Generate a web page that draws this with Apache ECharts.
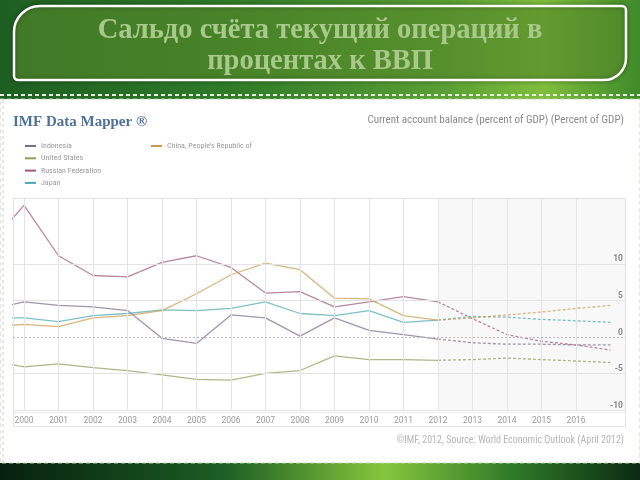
<!DOCTYPE html>
<html><head><meta charset="utf-8">
<script src="https://cdn.jsdelivr.net/npm/echarts@6/dist/echarts.min.js"></script>
<style>html,body{margin:0;padding:0;background:#fff}#c{width:640px;height:480px}</style>
</head><body><div id="c"></div>
<script>
const years = [1999,2000,2001,2002,2003,2004,2005,2006,2007,2008,2009,2010,2011,2012,2013,2014,2015,2016,2017];
const tickYears = [2000,2001,2002,2003,2004,2005,2006,2007,2008,2009,2010,2011,2012,2013,2014,2015,2016];
const lastActual = 2012;
const indonesia = [3.7,4.8,4.3,4.1,3.6,-0.2,-0.9,3.0,2.6,0.1,2.6,0.9,0.3,-0.3,-0.8,-1.0,-1.0,-1.1,-1.1];
const unitedStates = [-3.2,-4.1,-3.7,-4.2,-4.6,-5.2,-5.8,-5.9,-5.0,-4.6,-2.6,-3.1,-3.1,-3.2,-3.1,-2.9,-3.1,-3.3,-3.5];
const russia = [12.6,18.0,11.1,8.4,8.2,10.2,11.1,9.5,6.0,6.2,4.1,4.8,5.5,4.8,2.5,0.3,-0.6,-1.1,-1.8];
const japan = [2.6,2.6,2.1,2.9,3.2,3.7,3.6,3.9,4.8,3.2,2.9,3.6,2.0,2.3,2.8,2.7,2.4,2.2,2.0];
const china = [1.4,1.7,1.4,2.6,2.9,3.6,5.9,8.5,10.1,9.2,5.3,5.2,2.9,2.3,2.6,3.0,3.4,3.9,4.3];
const yGridValues = [-10,-5,5,10];

const countries = [
  {name:'Indonesia', data:indonesia, color:'#7d6b8c'},
  {name:'United States', data:unitedStates, color:'#8c9c5c'},
  {name:'Russian Federation', data:russia, color:'#9c5a78'},
  {name:'Japan', data:japan, color:'#4ea8b0'},
  {name:'China, People\'s Republic of', data:china, color:'#c89a50'}
];

const series = [];
countries.forEach(function(c){
  const actual = [], fc = [];
  years.forEach(function(y,i){
    if (y <= lastActual) actual.push([y, c.data[i]]);
    if (y >= lastActual) fc.push([y, c.data[i]]);
  });
  series.push({name:c.name, type:'line', data:actual, symbol:'none', color:c.color,
    lineStyle:{width:1.3, opacity:0.72}, z:3});
  series.push({name:c.name, type:'line', data:fc, symbol:'none', color:c.color,
    lineStyle:{width:1.3, opacity:0.72, type:[3,2]}, z:3});
});
series.push({type:'line', data:[], silent:true, z:1,
  markArea:{silent:true, itemStyle:{color:'#f8f8f8'}, data:[[{xAxis:lastActual},{xAxis:'max'}]]},
  markLine:{silent:true, symbol:'none', label:{show:false},
    data: tickYears.map(function(y){return {xAxis:y, lineStyle:{color:'#e3e3e3', width:1, type:'solid'}};})
      .concat(yGridValues.map(function(v){return {yAxis:v, lineStyle:{color:'#e3e3e3', width:1, type:'solid'}};}))
      .concat([{yAxis:0, lineStyle:{color:'#bdbdbd', width:1, type:[2,2]}}])
  }
});

const narrow = '"Liberation Sans Narrow", "Roboto Condensed", Roboto, sans-serif';

const option = {
  animation:false,
  graphic:[
    {type:'rect', z:-5, shape:{x:0,y:0,width:640,height:100},
      style:{fill:{type:'linear',x:0,y:0,x2:1,y2:0,colorStops:[
        {offset:0,color:'#1d5e22'},{offset:0.35,color:'#2f7a28'},{offset:0.7,color:'#5aa034'},{offset:0.85,color:'#7fbe3c'},{offset:1,color:'#3e8a2a'}]}}},
    {type:'rect', z:-5, shape:{x:0,y:462,width:640,height:18},
      style:{fill:{type:'linear',x:0,y:0,x2:1,y2:0,colorStops:[
        {offset:0,color:'#06200e'},{offset:0.35,color:'#1c5e24'},{offset:0.6,color:'#86c63c'},{offset:0.8,color:'#2f7a28'},{offset:1,color:'#0a2a12'}]}}},
    {type:'rect', z:-4, shape:{x:14,y:6,width:612,height:74,r:[26,4,22,4]},
      style:{fill:'rgba(100,160,50,0.55)', stroke:'#ffffff', lineWidth:2.5, shadowBlur:4, shadowColor:'rgba(0,0,0,0.4)'}},
    {type:'text', z:-3, x:320, y:31, style:{text:'Сальдо счёта текущий операций в', font:'bold 28.5px "Liberation Serif", serif', fill:'#a8c98a', align:'center', verticalAlign:'middle'}},
    {type:'text', z:-3, x:320, y:62, style:{text:'процентах к ВВП', font:'bold 28.5px "Liberation Serif", serif', fill:'#a8c98a', align:'center', verticalAlign:'middle'}},
    {type:'line', z:-3, shape:{x1:0,y1:95,x2:640,y2:95}, style:{stroke:'#e8f4e0', lineWidth:2, lineDash:[4,3]}},
    {type:'rect', z:-3, shape:{x:0,y:99,width:640,height:364}, style:{fill:'#ffffff', stroke:'#b9d8a8', lineWidth:1, lineDash:[4,3]}},
    {type:'line', z:-2, shape:{x1:3,y1:100,x2:3,y2:462}, style:{stroke:'#cccccc', lineWidth:1, lineDash:[3,3]}},
    {type:'text', z:-2, x:13, y:122, style:{text:'IMF Data Mapper ®', font:'bold 15px "Liberation Serif", serif', fill:'#4f7199', verticalAlign:'middle'}},
    {type:'text', z:-2, x:624, y:120, style:{text:'Current account balance (percent of GDP) (Percent of GDP)', font:'11px '+narrow, fill:'#8a8a8a', align:'right', verticalAlign:'middle'}},
    {type:'text', z:-2, x:624, y:440, style:{text:'©IMF, 2012, Source: World Economic Outlook (April 2012)', font:'10px '+narrow, fill:'#b5b5b5', align:'right', verticalAlign:'middle'}},
    {type:'rect', z:5, shape:{x:13.5,y:198.5,width:612,height:228}, style:{fill:'none', stroke:'#e2e2e2', lineWidth:1}},
    {type:'line', z:5, shape:{x1:13,y1:412.5,x2:626,y2:412.5}, style:{stroke:'#ececec', lineWidth:1}}
  ],
  legend:[
    {data:['Indonesia','United States','Russian Federation','Japan'], orient:'vertical', left:20, top:137,
      itemWidth:11, itemHeight:2, icon:'rect', itemGap:4.3, textStyle:{fontSize:8, color:'#9a9a9a', fontFamily:narrow}, selectedMode:false},
    {data:['China, People\'s Republic of'], orient:'vertical', left:146, top:137,
      itemWidth:11, itemHeight:2, icon:'rect', textStyle:{fontSize:8, color:'#9a9a9a', fontFamily:narrow}, selectedMode:false}
  ],
  grid:{left:13, top:198, right:14, bottom:70},
  xAxis:{type:'value', min:1999.68, max:2017.45, splitLine:{show:false},
    axisLine:{show:false},
    axisTick:{show:true, customValues:tickYears, length:3, lineStyle:{color:'#cfcfcf'}},
    axisLabel:{customValues:tickYears, color:'#9a9a9a', fontSize:8.5, margin:6, fontFamily:'Roboto, sans-serif',
      formatter:function(v){return String(Math.round(v));}}},
  yAxis:{type:'value', min:-10, max:19, interval:5, position:'right', z:10, splitLine:{show:false},
    axisLine:{show:false}, axisTick:{show:false},
    axisLabel:{inside:true, margin:3, verticalAlign:'bottom', color:'#8a8a8a', fontSize:8.5, fontWeight:'bold', fontFamily:'Roboto, sans-serif',
      formatter:function(v){return (v>=-10 && v<=10 && v%5===0) ? String(v) : '';}}},
  series:series
};
const chart = echarts.init(document.getElementById('c'), null, {renderer:'canvas'});
chart.setOption(option);
</script></body></html>
